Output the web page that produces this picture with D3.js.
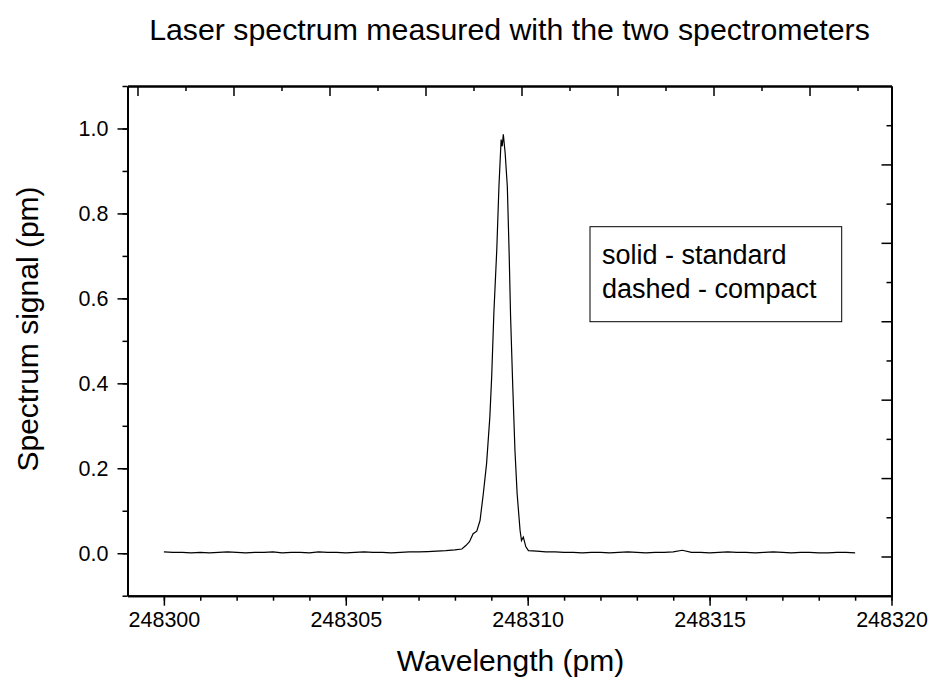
<!DOCTYPE html>
<html>
<head>
<meta charset="utf-8">
<script src="https://cdn.jsdelivr.net/npm/d3@7"></script>
<style>
  body { margin: 0; background: #fff; }
  svg { display: block; font-family: "Liberation Sans", Arial, sans-serif; }
  .axis path, .axis line { stroke: #000; }
</style>
</head>
<body>
<div id="chart"></div>
<script>
// measured spectrum, standard spectrometer (wavelength in pm, signal)
const baseLeftX = [248300, 248300.25, 248300.5, 248300.75, 248301, 248301.25, 248301.5, 248301.75,
  248302, 248302.25, 248302.5, 248302.75, 248303, 248303.25, 248303.5, 248303.75,
  248304, 248304.25, 248304.5, 248304.75, 248305, 248305.25, 248305.5, 248305.75,
  248306, 248306.25, 248306.5, 248306.75, 248307, 248307.25, 248307.5, 248307.75, 248308];
const baseLeftY = [0.003, 0.002, 0.002, 0.001, 0.002, 0.001, 0.002, 0.003,
  0.002, 0.001, 0.002, 0.002, 0.003, 0.001, 0.002, 0.002,
  0.001, 0.003, 0.002, 0.002, 0.001, 0.002, 0.003, 0.002,
  0.002, 0.001, 0.002, 0.003, 0.003, 0.004, 0.005, 0.006, 0.008];
const peakX = [248308.19, 248308.3, 248308.4, 248308.5, 248308.6, 248308.69, 248308.78, 248308.87,
  248308.96, 248309.01, 248309.07, 248309.15, 248309.21, 248309.27, 248309.3, 248309.33,
  248309.38, 248309.44, 248309.49, 248309.53, 248309.59, 248309.65, 248309.71, 248309.79,
  248309.83, 248309.88, 248309.95, 248310.02];
const peakY = [0.010, 0.018, 0.027, 0.046, 0.052, 0.077, 0.140, 0.211,
  0.321, 0.415, 0.565, 0.714, 0.864, 0.974, 0.958, 0.986,
  0.943, 0.864, 0.707, 0.557, 0.392, 0.242, 0.140, 0.054,
  0.030, 0.038, 0.015, 0.006];
const baseRightX = [248310.25, 248310.5, 248310.75, 248311, 248311.25, 248311.5, 248311.75,
  248312, 248312.25, 248312.5, 248312.75, 248313, 248313.25, 248313.5, 248313.75,
  248314, 248314.25, 248314.5, 248314.75, 248315, 248315.25, 248315.5, 248315.75,
  248316, 248316.25, 248316.5, 248316.75, 248317, 248317.25, 248317.5, 248317.75,
  248318, 248318.25, 248318.5, 248318.75, 248319];
const baseRightY = [0.005, 0.003, 0.003, 0.002, 0.002, 0.001, 0.002,
  0.002, 0.001, 0.002, 0.003, 0.002, 0.001, 0.002, 0.002,
  0.003, 0.007, 0.002, 0.002, 0.001, 0.002, 0.003, 0.002,
  0.002, 0.001, 0.002, 0.003, 0.002, 0.001, 0.002, 0.002,
  0.001, 0.001, 0.002, 0.002, 0.001];

const xMajor = [248300, 248305, 248310, 248315, 248320];
const yMajor = [0.0, 0.2, 0.4, 0.6, 0.8, 1.0];
// second (compact) scale on top / right, unlabeled
const topMajor = [0, 1, 2, 3, 4, 5, 6, 7];
const rightMajor = [0, 1, 2, 3, 4, 5];

const legendLines = ["solid - standard", "dashed - compact"];

const width = 932, height = 686;
const mLeft = 127.5, mRight = 891.5, mTop = 86, mBottom = 595.7;

const svg = d3.select("#chart").append("svg")
    .attr("width", width)
    .attr("height", height);

const x = d3.scaleLinear().domain([248299, 248320]).range([mLeft, mRight]);
const y = d3.scaleLinear().domain([-0.1, 1.1]).range([mBottom, mTop]);
const xTop = d3.scaleLinear().domain([-0.104, 7.854]).range([mLeft, mRight]);
const yRight = d3.scaleLinear().domain([-0.5, 6.0]).range([mBottom, mTop]);

function styleAxis(g, size) {
  g.attr("class", "axis");
  g.select(".domain").attr("stroke-width", 2);
  g.selectAll(".tick line").attr("stroke-width", 1.5);
  g.selectAll("text").attr("fill", "#000").attr("font-size", size);
}

// minor ticks first
svg.append("g").attr("transform", `translate(0,${mBottom})`)
  .call(d3.axisBottom(x).tickValues(d3.range(248300, 248321, 1)).tickSize(5).tickFormat("").tickSizeOuter(0))
  .call(g => styleAxis(g, 0));
svg.append("g").attr("transform", `translate(${mLeft},0)`)
  .call(d3.axisLeft(y).tickValues(d3.range(-0.1, 1.1, 0.1)).tickSize(5).tickFormat("").tickSizeOuter(0))
  .call(g => styleAxis(g, 0));
svg.append("g").attr("transform", `translate(0,${mTop})`)
  .call(d3.axisBottom(xTop).tickValues(d3.range(0.5, 7.6, 1)).tickSize(5).tickFormat("").tickSizeOuter(0))
  .call(g => styleAxis(g, 0));
svg.append("g").attr("transform", `translate(${mRight},0)`)
  .call(d3.axisLeft(yRight).tickValues(d3.range(0.5, 5.6, 1)).tickSize(5).tickFormat("").tickSizeOuter(0))
  .call(g => styleAxis(g, 0));

// major ticks
svg.append("g").attr("transform", `translate(0,${mBottom})`)
  .call(d3.axisBottom(x).tickValues(xMajor).tickSize(10).tickPadding(6).tickFormat(d3.format("d")).tickSizeOuter(0))
  .call(g => styleAxis(g, 21.5));
svg.append("g").attr("transform", `translate(${mLeft},0)`)
  .call(d3.axisLeft(y).tickValues(yMajor).tickSize(10).tickPadding(9).tickFormat(d3.format(".1f")).tickSizeOuter(0))
  .call(g => styleAxis(g, 21.5));
svg.append("g").attr("transform", `translate(0,${mTop})`)
  .call(d3.axisBottom(xTop).tickValues(topMajor).tickSize(10).tickFormat("").tickSizeOuter(0))
  .call(g => styleAxis(g, 0));
svg.append("g").attr("transform", `translate(${mRight},0)`)
  .call(d3.axisLeft(yRight).tickValues(rightMajor).tickSize(10).tickFormat("").tickSizeOuter(0))
  .call(g => styleAxis(g, 0));

// spectrum curve
const pts = [];
baseLeftX.forEach((d, i) => pts.push([d, baseLeftY[i]]));
peakX.forEach((d, i) => pts.push([d, peakY[i]]));
baseRightX.forEach((d, i) => pts.push([d, baseRightY[i]]));

const line = d3.line()
    .x(d => x(d[0]))
    .y(d => y(d[1]));

svg.append("path")
    .datum(pts)
    .attr("fill", "none")
    .attr("stroke", "#000")
    .attr("stroke-width", 1.2)
    .attr("d", line);

// legend box
const legend = svg.append("g");
legend.append("rect")
    .attr("x", 590).attr("y", 226.7)
    .attr("width", 251.7).attr("height", 95)
    .attr("fill", "#fff").attr("stroke", "#000").attr("stroke-width", 1);
legend.selectAll("text")
  .data(legendLines)
  .enter().append("text")
    .attr("x", 602)
    .attr("y", (d, i) => 264 + i * 33.5)
    .attr("font-size", 27)
    .text(d => d);

// titles
svg.append("text")
    .attr("x", (mLeft + mRight) / 2)
    .attr("y", 40)
    .attr("text-anchor", "middle")
    .attr("font-size", 30.3)
    .text("Laser spectrum measured with the two spectrometers");

svg.append("text")
    .attr("x", (mLeft + mRight) / 2 + 1)
    .attr("y", 671)
    .attr("text-anchor", "middle")
    .attr("font-size", 30)
    .text("Wavelength (pm)");

svg.append("text")
    .attr("transform", "translate(38,329)rotate(-90)")
    .attr("text-anchor", "middle")
    .attr("font-size", 30)
    .text("Spectrum signal (pm)");
</script>
</body>
</html>
